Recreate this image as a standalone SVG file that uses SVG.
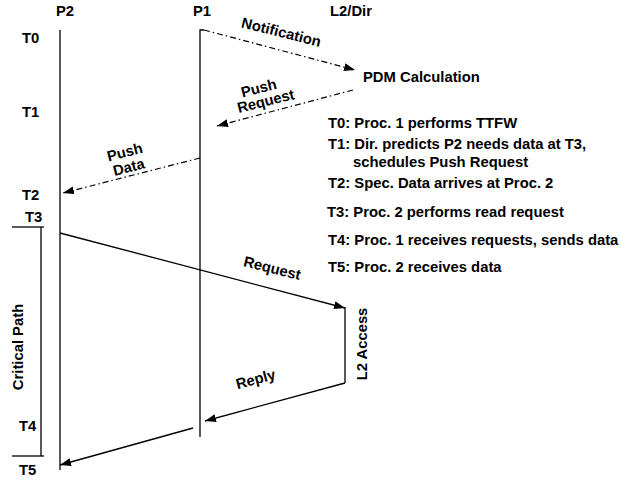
<svg xmlns="http://www.w3.org/2000/svg" width="621" height="480" viewBox="0 0 621 480">
<style>
text{font-family:"Liberation Sans",Arial,sans-serif;font-weight:bold;font-size:14.8px;fill:#000}
.ln{stroke:#000;stroke-width:1.3;fill:none}
.dd{stroke:#000;stroke-width:1.2;fill:none;stroke-dasharray:6,3,1.5,3}
</style>
<defs>
<marker id="ah" markerUnits="userSpaceOnUse" markerWidth="12" markerHeight="10" refX="11" refY="4" orient="auto">
<path d="M0,0 L11,4 L0,8 Z" fill="#000"/>
</marker>
</defs>
<rect width="621" height="480" fill="#fff"/>
<g id="lifelines">
<g id="p2"><text x="56" y="16">P2</text><line class="ln" x1="60" y1="30" x2="60" y2="470"/></g>
<g id="p1"><text x="193" y="16">P1</text><polyline class="ln" points="204,30 200,30 200,437"/></g>
<g id="l2dir"><text x="330" y="16">L2/Dir</text></g>
</g>
<g id="times">
<text x="22" y="43">T0</text>
<text x="22" y="117">T1</text>
<text x="22" y="200">T2</text>
<text x="25" y="222">T3</text>
<text x="19" y="431">T4</text>
<text x="19" y="475">T5</text>
</g>
<g id="critical-path">
<polyline class="ln" points="12,227 44,227"/>
<line class="ln" x1="41" y1="227" x2="41" y2="456"/>
<polyline class="ln" points="12,456 44,456"/>
<text transform="translate(23,347) rotate(-90)" text-anchor="middle">Critical Path</text>
</g>
<g id="pdm"><text x="363" y="82">PDM Calculation</text></g>
<g id="l2access">
<line class="ln" x1="345" y1="307" x2="345" y2="383"/>
<text transform="translate(367,344) rotate(-90)" text-anchor="middle">L2 Access</text>
</g>
<g id="legend">
<text x="328" y="128">T0: Proc. 1 performs TTFW</text>
<text x="328" y="149">T1: Dir. predicts P2 needs data at T3,</text>
<text x="353" y="167">schedules Push Request</text>
<text x="328" y="188">T2: Spec. Data arrives at Proc. 2</text>
<text x="327" y="217">T3: Proc. 2 performs read request</text>
<text x="328" y="245">T4: Proc. 1 receives requests, sends data</text>
<text x="328" y="272">T5: Proc. 2 receives data</text>
</g>
<g id="connectors">
<line class="dd" x1="204" y1="30" x2="355" y2="70" marker-end="url(#ah)"/>
<line class="dd" x1="353" y1="90" x2="217" y2="126" marker-end="url(#ah)"/>
<line class="dd" x1="200" y1="158" x2="63" y2="193" marker-end="url(#ah)"/>
<line class="ln" x1="60" y1="233" x2="345" y2="308" marker-end="url(#ah)"/>
<line class="ln" x1="345" y1="383" x2="205" y2="421" marker-end="url(#ah)"/>
<line class="ln" x1="193" y1="428" x2="60" y2="465" marker-end="url(#ah)"/>
</g>
<g id="labels">
<text transform="translate(280,37) rotate(14)" text-anchor="middle">Notification</text>
<text transform="translate(260,93) rotate(-14)" text-anchor="middle">Push</text>
<text transform="translate(267,106) rotate(-14)" text-anchor="middle">Request</text>
<text transform="translate(126,157) rotate(-14)" text-anchor="middle">Push</text>
<text transform="translate(130,172) rotate(-14)" text-anchor="middle">Data</text>
<text transform="translate(271,273) rotate(14)" text-anchor="middle">Request</text>
<text transform="translate(257,384) rotate(-15)" text-anchor="middle">Reply</text>
</g>
</svg>
